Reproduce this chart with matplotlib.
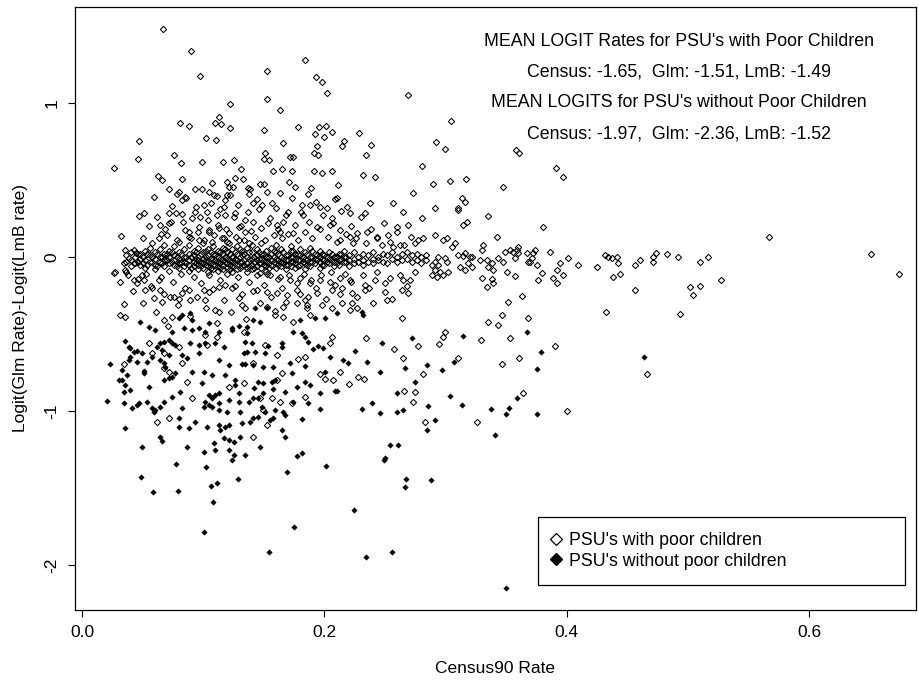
import matplotlib
matplotlib.use("Agg")
import matplotlib.pyplot as plt
from matplotlib.lines import Line2D

plt.rcParams['font.family'] = ['Liberation Sans', 'DejaVu Sans']

# ---- data: PSU's with poor children (open diamonds) ----
open_high = [(0.0668, 1.482), (0.0896, 1.336), (0.097, 1.177), (0.1218, 0.994), (0.113, 0.911),
             (0.110, 0.868), (0.1146, 0.866), (0.1218, 0.838), (0.0811, 0.868), (0.088, 0.849),
             (0.047, 0.751), (0.102, 0.773), (0.1105, 0.762), (0.0462, 0.634), (0.0264, 0.580),
             (0.0761, 0.660), (0.0814, 0.608), (0.0987, 0.615), (0.1163, 0.615), (0.1254, 0.630),
             (0.1314, 0.571), (0.0627, 0.524), (0.066, 0.498), (0.0827, 0.506), (0.1199, 0.489),
             (0.126, 0.515), (0.133, 0.506), (0.107, 0.478), (0.0715, 0.441), (0.093, 0.443),
             (0.0803, 0.42), (0.0786, 0.407), (0.0847, 0.388), (0.0594, 0.392), (0.1045, 0.422),
             (0.1086, 0.405), (0.111, 0.396), (0.121, 0.455), (0.1245, 0.453), (0.120, 0.40),
             (0.1367, 0.45), (0.1375, 0.411),
             (0.1837, 1.277), (0.1523, 1.206), (0.1927, 1.167), (0.1977, 1.134), (0.202, 1.067),
             (0.2689, 1.054), (0.1523, 1.028), (0.1633, 0.957), (0.1504, 0.825), (0.1781, 0.844),
             (0.1955, 0.846), (0.201, 0.853), (0.1922, 0.80), (0.1996, 0.781), (0.2064, 0.814),
             (0.2287, 0.805), (0.2158, 0.755), (0.2142, 0.723), (0.2381, 0.727), (0.2917, 0.749),
             (0.166, 0.738), (0.1938, 0.719), (0.1506, 0.675), (0.150, 0.636), (0.1542, 0.630),
             (0.1715, 0.651), (0.1743, 0.651), (0.1916, 0.677), (0.1944, 0.664), (0.2345, 0.66),
             (0.1578, 0.556), (0.1652, 0.569), (0.173, 0.556), (0.1913, 0.558), (0.1982, 0.547),
             (0.2062, 0.558), (0.2317, 0.532), (0.2416, 0.521), (0.2807, 0.591), (0.2895, 0.472),
             (0.2727, 0.418), (0.1705, 0.489), (0.1757, 0.455), (0.163, 0.418), (0.1468, 0.476),
             (0.150, 0.472), (0.1889, 0.446), (0.1866, 0.411), (0.2114, 0.466), (0.21, 0.383),
             (0.2087, 0.375), (0.1386, 0.444), (0.144, 0.375),
             (0.3043, 0.883), (0.2996, 0.703), (0.3577, 0.693), (0.3607, 0.675), (0.391, 0.58),
             (0.3964, 0.518), (0.3035, 0.494), (0.3167, 0.506), (0.347, 0.455), (0.3137, 0.381)]

open_mid = [(0.0468, 0.266), (0.0509, 0.284), (0.0324, 0.134), (0.0646, 0.208), (0.0687, 0.18),
            (0.0654, 0.149), (0.0638, 0.123), (0.0734, 0.229), (0.0715, 0.219), (0.0825, 0.277),
            (0.0778, 0.284), (0.0715, 0.288), (0.0907, 0.255), (0.0976, 0.262), (0.105, 0.164),
            (0.0825, 0.37), (0.094, 0.327), (0.1003, 0.338), (0.1031, 0.294), (0.1113, 0.273),
            (0.1182, 0.273), (0.1264, 0.284), (0.1347, 0.24), (0.1169, 0.327), (0.1182, 0.37),
            (0.0852, 0.175), (0.088, 0.164), (0.0962, 0.197), (0.1045, 0.175), (0.1127, 0.186),
            (0.121, 0.154), (0.1292, 0.197), (0.1347, 0.164), (0.088, 0.132), (0.0962, 0.11),
            (0.1072, 0.099), (0.1155, 0.121), (0.121, 0.089), (0.1292, 0.11), (0.1375, 0.089),
            (0.1413, 0.349), (0.1482, 0.338), (0.1564, 0.349), (0.1702, 0.294), (0.1812, 0.338),
            (0.1881, 0.338), (0.1963, 0.327), (0.2018, 0.316), (0.1825, 0.273), (0.2059, 0.251),
            (0.2183, 0.327), (0.2211, 0.284), (0.2375, 0.349), (0.2334, 0.284), (0.2568, 0.349),
            (0.265, 0.294), (0.2802, 0.251), (0.2691, 0.208), (0.2526, 0.143), (0.2746, 0.089),
            (0.2815, 0.121), (0.1536, 0.219), (0.1605, 0.208), (0.166, 0.229), (0.1633, 0.164),
            (0.1743, 0.154), (0.1935, 0.197), (0.2045, 0.208), (0.2128, 0.175), (0.2211, 0.132),
            (0.2266, 0.154), (0.2348, 0.164), (0.2431, 0.132), (0.2128, 0.11), (0.2238, 0.089),
            (0.2595, 0.197), (0.2472, 0.078), (0.2568, 0.067), (0.2623, 0.078),
            (0.05, 0.12), (0.055, 0.2), (0.058, 0.09), (0.062, 0.26), (0.07, 0.14), (0.074, 0.33),
            (0.078, 0.11), (0.083, 0.23), (0.086, 0.38), (0.09, 0.12), (0.093, 0.29), (0.096, 0.16),
            (0.099, 0.44), (0.101, 0.11), (0.104, 0.24), (0.106, 0.35), (0.109, 0.14), (0.112, 0.21),
            (0.114, 0.31), (0.117, 0.12), (0.119, 0.18), (0.122, 0.4), (0.125, 0.26), (0.127, 0.13),
            (0.129, 0.34), (0.131, 0.2), (0.134, 0.11), (0.137, 0.29), (0.139, 0.17), (0.141, 0.23),
            (0.143, 0.13), (0.146, 0.31), (0.148, 0.19), (0.151, 0.11), (0.153, 0.42), (0.155, 0.25),
            (0.158, 0.14), (0.16, 0.32), (0.162, 0.18), (0.165, 0.12), (0.168, 0.27), (0.17, 0.15),
            (0.173, 0.38), (0.176, 0.21), (0.178, 0.11), (0.181, 0.29), (0.184, 0.16), (0.187, 0.23),
            (0.19, 0.12), (0.193, 0.36), (0.196, 0.18), (0.199, 0.27), (0.203, 0.13), (0.207, 0.22),
            (0.21, 0.1), (0.214, 0.3), (0.218, 0.15), (0.222, 0.2), (0.226, 0.12), (0.23, 0.26),
            (0.234, 0.09), (0.238, 0.18), (0.243, 0.12), (0.249, 0.22), (0.254, 0.1), (0.26, 0.16),
            (0.266, 0.08), (0.271, 0.13), (0.277, 0.11)]

# the dense band around zero, listed column by column
band = [(0.036, 0.01), (0.036, -0.03), (0.040, 0.03), (0.040, -0.02), (0.040, -0.06),
        (0.044, 0.0), (0.044, -0.04), (0.048, 0.02), (0.048, -0.01), (0.048, -0.05),
        (0.052, 0.04), (0.052, -0.02), (0.052, -0.07), (0.056, 0.01), (0.056, -0.03), (0.056, 0.06),
        (0.060, 0.03), (0.060, -0.01), (0.060, -0.05), (0.060, -0.08), (0.064, 0.0), (0.064, -0.03),
        (0.064, 0.05), (0.068, 0.02), (0.068, -0.02), (0.068, -0.06), (0.068, 0.08),
        (0.072, 0.04), (0.072, 0.0), (0.072, -0.04), (0.072, -0.09), (0.076, 0.01), (0.076, -0.02),
        (0.076, -0.05), (0.076, 0.07), (0.080, 0.03), (0.080, -0.01), (0.080, -0.04), (0.080, -0.07),
        (0.080, 0.1), (0.084, 0.05), (0.084, 0.0), (0.084, -0.03), (0.084, -0.06),
        (0.088, 0.02), (0.088, -0.02), (0.088, -0.05), (0.088, -0.09), (0.088, 0.08),
        (0.092, 0.04), (0.092, 0.01), (0.092, -0.03), (0.092, -0.06),
        (0.096, 0.06), (0.096, 0.0), (0.096, -0.02), (0.096, -0.05), (0.096, -0.08),
        (0.100, 0.03), (0.100, -0.01), (0.100, -0.04), (0.100, -0.07), (0.100, 0.09),
        (0.104, 0.05), (0.104, 0.01), (0.104, -0.03), (0.104, -0.06), (0.104, -0.1),
        (0.108, 0.02), (0.108, -0.01), (0.108, -0.05), (0.108, -0.08), (0.108, 0.07),
        (0.112, 0.04), (0.112, 0.0), (0.112, -0.03), (0.112, -0.06), (0.112, -0.09),
        (0.116, 0.06), (0.116, 0.02), (0.116, -0.02), (0.116, -0.05), (0.116, -0.08),
        (0.120, 0.03), (0.120, -0.01), (0.120, -0.04), (0.120, -0.07), (0.120, 0.1),
        (0.124, 0.05), (0.124, 0.0), (0.124, -0.03), (0.124, -0.06), (0.124, -0.1),
        (0.128, 0.02), (0.128, -0.02), (0.128, -0.05), (0.128, -0.08), (0.128, 0.07),
        (0.132, 0.04), (0.132, 0.01), (0.132, -0.03), (0.132, -0.06),
        (0.136, 0.06), (0.136, 0.0), (0.136, -0.04), (0.136, -0.07), (0.136, -0.1),
        (0.140, 0.03), (0.140, -0.01), (0.140, -0.05), (0.140, -0.08), (0.140, 0.08),
        (0.144, 0.05), (0.144, 0.01), (0.144, -0.02), (0.144, -0.06),
        (0.148, 0.02), (0.148, -0.01), (0.148, -0.04), (0.148, -0.07), (0.148, 0.09),
        (0.152, 0.04), (0.152, 0.0), (0.152, -0.03), (0.152, -0.06), (0.152, -0.09),
        (0.156, 0.06), (0.156, 0.02), (0.156, -0.02), (0.156, -0.05),
        (0.160, 0.03), (0.160, -0.01), (0.160, -0.04), (0.160, -0.07), (0.160, 0.08),
        (0.164, 0.05), (0.164, 0.0), (0.164, -0.03), (0.164, -0.06),
        (0.168, 0.01), (0.168, -0.02), (0.168, -0.05), (0.168, -0.08),
        (0.172, 0.04), (0.172, 0.0), (0.172, -0.03), (0.172, -0.06), (0.172, 0.07),
        (0.176, 0.02), (0.176, -0.01), (0.176, -0.04), (0.176, -0.07),
        (0.180, 0.05), (0.180, 0.01), (0.180, -0.02), (0.180, -0.05),
        (0.184, 0.03), (0.184, -0.01), (0.184, -0.04), (0.184, -0.08),
        (0.188, 0.0), (0.188, -0.03), (0.188, -0.06), (0.188, 0.06),
        (0.192, 0.02), (0.192, -0.01), (0.192, -0.04), (0.196, 0.04), (0.196, 0.0),
        (0.196, -0.03), (0.196, -0.07), (0.200, 0.01), (0.200, -0.02), (0.200, -0.05),
        (0.204, 0.03), (0.204, -0.01), (0.204, -0.04), (0.208, 0.0), (0.208, -0.03), (0.208, -0.06),
        (0.212, 0.02), (0.212, -0.02), (0.212, -0.05), (0.216, 0.04), (0.216, 0.0), (0.216, -0.03),
        (0.220, 0.01), (0.220, -0.02), (0.220, -0.06), (0.224, 0.03), (0.224, -0.01), (0.224, -0.04),
        (0.228, 0.0), (0.228, -0.03), (0.232, 0.02), (0.232, -0.02), (0.232, -0.05),
        (0.236, 0.01), (0.236, -0.03), (0.240, 0.03), (0.240, -0.01), (0.240, -0.04),
        (0.244, 0.0), (0.244, -0.02), (0.248, 0.02), (0.248, -0.03), (0.252, 0.01), (0.252, -0.04),
        (0.256, 0.03), (0.256, -0.01), (0.260, 0.0), (0.260, -0.03), (0.264, 0.02), (0.264, -0.02),
        (0.268, -0.01), (0.268, 0.03), (0.272, 0.01), (0.272, -0.03), (0.276, 0.02), (0.276, -0.02),
        (0.280, 0.0), (0.280, -0.04), (0.284, 0.01), (0.284, -0.02)]

# extra points where the band is nearly solid
band_core = [(0.046, 0.02), (0.046, -0.03), (0.050, 0.0), (0.050, -0.04), (0.054, 0.02), (0.054, -0.05),
             (0.058, 0.0), (0.058, -0.03), (0.062, 0.02), (0.062, -0.06), (0.066, 0.0), (0.066, -0.04),
             (0.070, 0.02), (0.070, -0.02), (0.074, -0.03), (0.074, 0.03), (0.078, 0.0), (0.078, -0.06),
             (0.082, 0.02), (0.082, -0.03), (0.086, 0.0), (0.086, -0.04),
             (0.090, 0.0), (0.090, -0.07), (0.094, -0.01), (0.094, 0.03), (0.094, -0.04),
             (0.098, 0.02), (0.098, -0.03), (0.098, -0.06), (0.102, 0.0), (0.102, -0.02), (0.102, -0.05),
             (0.102, 0.04), (0.106, 0.03), (0.106, -0.01), (0.106, -0.04), (0.106, -0.07),
             (0.110, 0.01), (0.110, -0.02), (0.110, -0.05), (0.114, 0.03), (0.114, -0.01),
             (0.114, -0.04), (0.114, -0.07), (0.118, 0.0), (0.118, -0.03), (0.118, 0.05),
             (0.122, 0.02), (0.122, -0.02), (0.122, -0.05), (0.122, -0.08), (0.126, 0.03),
             (0.126, -0.01), (0.126, -0.04), (0.130, 0.0), (0.130, -0.03), (0.130, -0.07),
             (0.130, 0.05), (0.134, 0.02), (0.134, -0.02), (0.134, -0.05), (0.138, 0.03),
             (0.138, -0.01), (0.138, -0.06), (0.142, 0.0), (0.142, -0.03), (0.142, -0.07),
             (0.146, 0.03), (0.146, -0.01), (0.146, -0.04), (0.150, 0.02), (0.150, -0.02),
             (0.150, -0.05), (0.154, 0.0), (0.154, -0.04), (0.154, -0.07), (0.158, 0.04),
             (0.158, 0.0), (0.158, -0.03), (0.162, 0.02), (0.162, -0.02), (0.162, -0.05),
             (0.166, 0.03), (0.166, -0.01), (0.166, -0.04), (0.170, 0.01), (0.170, -0.02),
             (0.170, -0.05), (0.174, 0.04), (0.174, 0.0), (0.174, -0.03), (0.178, 0.02),
             (0.178, -0.02), (0.178, -0.06), (0.182, 0.0), (0.182, -0.03), (0.186, 0.02),
             (0.186, -0.02), (0.186, -0.05), (0.190, 0.04), (0.190, 0.0), (0.190, -0.03),
             (0.194, 0.01), (0.194, -0.02), (0.198, 0.02), (0.198, -0.01), (0.198, -0.05),
             (0.202, 0.0), (0.202, -0.03), (0.206, 0.02), (0.206, -0.02), (0.210, 0.0),
             (0.210, -0.04), (0.214, 0.02), (0.214, -0.01), (0.218, 0.0), (0.218, -0.03)]

open_low = [(0.0357, 0.045), (0.0385, -0.009), (0.0344, -0.041), (0.0275, -0.095), (0.0261, -0.106),
            (0.0316, -0.16), (0.0357, -0.084), (0.0363, -0.095), (0.0426, -0.041), (0.0426, 0.045),
            (0.0445, 0.028), (0.0426, -0.149), (0.0454, -0.171), (0.0522, -0.214), (0.0577, -0.203),
            (0.0646, -0.214), (0.0591, -0.268), (0.066, -0.29), (0.0495, -0.117), (0.0509, -0.149),
            (0.0632, -0.149), (0.0344, -0.305), (0.0316, -0.377), (0.0357, -0.388), (0.0728, -0.258),
            (0.0756, -0.258), (0.0797, -0.273), (0.0893, -0.279), (0.0825, -0.236), (0.088, -0.214),
            (0.1003, -0.214), (0.1045, -0.225), (0.1127, -0.193), (0.1182, -0.182), (0.1237, -0.203),
            (0.1017, -0.279), (0.1099, -0.344), (0.1127, -0.355), (0.1292, -0.268), (0.132, -0.312),
            (0.1347, -0.333), (0.0674, -0.409), (0.0742, -0.392),
            (0.1468, -0.106), (0.155, -0.117), (0.1633, -0.128), (0.1715, -0.149), (0.1798, -0.138),
            (0.188, -0.171), (0.1963, -0.149), (0.2045, -0.16), (0.2128, -0.138), (0.2211, -0.149),
            (0.2334, -0.182), (0.2416, -0.149), (0.254, -0.138), (0.265, -0.149), (0.2705, -0.149),
            (0.1441, -0.214), (0.1523, -0.225), (0.1605, -0.236), (0.1688, -0.247), (0.177, -0.214),
            (0.1867, -0.258), (0.1935, -0.236), (0.2059, -0.214), (0.2142, -0.203), (0.2224, -0.236),
            (0.2334, -0.214), (0.2499, -0.225), (0.2636, -0.214), (0.2691, -0.236),
            (0.1523, -0.323), (0.166, -0.323), (0.177, -0.301), (0.1839, -0.279), (0.1976, -0.312),
            (0.2059, -0.333), (0.2142, -0.301), (0.221, -0.344), (0.2265, -0.333), (0.2403, -0.301),
            (0.2513, -0.279), (0.2636, -0.398), (0.166, -0.388), (0.1592, -0.377), (0.188, -0.377),
            (0.1853, -0.333), (0.2224, -0.301),
            (0.038, -0.12), (0.042, -0.22), (0.046, -0.14), (0.05, -0.3), (0.053, -0.11), (0.057, -0.19),
            (0.061, -0.36), (0.065, -0.13), (0.068, -0.24), (0.071, -0.45), (0.075, -0.16), (0.079, -0.31),
            (0.082, -0.11), (0.085, -0.2), (0.089, -0.38), (0.092, -0.13), (0.095, -0.26), (0.098, -0.17),
            (0.102, -0.33), (0.105, -0.12), (0.108, -0.21), (0.111, -0.43), (0.114, -0.15), (0.117, -0.28),
            (0.12, -0.11), (0.123, -0.36), (0.126, -0.19), (0.129, -0.13), (0.132, -0.24), (0.135, -0.4),
            (0.138, -0.16), (0.141, -0.22), (0.144, -0.12), (0.147, -0.3), (0.15, -0.18), (0.153, -0.11),
            (0.156, -0.26), (0.159, -0.35), (0.162, -0.14), (0.165, -0.2), (0.168, -0.29), (0.171, -0.12),
            (0.174, -0.42), (0.177, -0.17), (0.18, -0.24), (0.183, -0.11), (0.186, -0.31), (0.189, -0.15),
            (0.193, -0.2), (0.197, -0.12), (0.201, -0.27), (0.205, -0.1), (0.209, -0.18), (0.213, -0.24),
            (0.217, -0.11), (0.222, -0.16), (0.227, -0.26), (0.232, -0.12), (0.237, -0.2), (0.243, -0.1),
            (0.25, -0.17), (0.256, -0.27), (0.262, -0.12), (0.268, -0.19), (0.275, -0.1)]

open_right = [(0.2911, 0.316), (0.3104, 0.316), (0.3104, 0.305), (0.3159, 0.359), (0.3351, 0.266),
              (0.3173, 0.229), (0.3145, 0.208), (0.3805, 0.193), (0.2911, 0.143), (0.298, 0.110),
              (0.3008, 0.121), (0.3076, 0.089), (0.3049, 0.067), (0.331, 0.078), (0.3296, 0.045),
              (0.342, 0.132), (0.3159, 0.024), (0.3145, 0.006), (0.32, 0.002), (0.3104, 0.013),
              (0.2939, 0.002), (0.2911, -0.030), (0.2994, -0.009), (0.3008, -0.030), (0.2884, -0.052),
              (0.2939, -0.052), (0.2911, -0.084), (0.2953, -0.095), (0.2884, -0.117), (0.2925, -0.128),
              (0.298, -0.117), (0.3021, -0.095), (0.3118, -0.063), (0.3159, -0.084), (0.3186, -0.041),
              (0.3214, -0.063), (0.3214, 0.002), (0.3282, -0.019), (0.3338, -0.019), (0.3351, -0.063),
              (0.3392, -0.084), (0.3379, -0.041), (0.3434, -0.009), (0.3475, -0.030), (0.3489, 0.035),
              (0.353, 0.045), (0.3557, 0.035), (0.3585, 0.045), (0.3598, 0.067), (0.3571, -0.009),
              (0.3598, 0.024), (0.3503, -0.095), (0.3571, -0.123), (0.3296, -0.139), (0.3379, -0.145),
              (0.3392, -0.167), (0.3338, -0.193), (0.3667, 0.024), (0.3681, -0.030), (0.3722, 0.024),
              (0.3709, -0.009), (0.3736, 0.045), (0.375, -0.052), (0.3791, -0.106), (0.3763, -0.149),
              (0.3695, -0.030), (0.386, 0.035), (0.3942, -0.041), (0.3915, -0.084), (0.3887, -0.139),
              (0.3915, -0.167), (0.397, -0.117), (0.4011, -0.009), (0.4093, -0.052), (0.4245, -0.063),
              (0.4313, 0.013), (0.4341, 0.002), (0.4368, -0.009), (0.441, 0.002), (0.4423, -0.037),
              (0.4382, -0.128), (0.4437, -0.110), (0.4561, -0.052), (0.4602, -0.019), (0.4561, -0.214),
              (0.4707, -0.030), (0.4712, 0.002), (0.4734, 0.024), (0.4822, 0.019), (0.4918, -0.002),
              (0.5097, -0.030), (0.5165, -0.002), (0.5014, -0.193), (0.5097, -0.188), (0.5042, -0.247),
              (0.3626, -0.251), (0.3516, -0.290), (0.3461, -0.377), (0.3351, -0.420), (0.3434, -0.442),
              (0.3681, -0.394), (0.4324, -0.359), (0.4932, -0.372), (0.527, -0.149), (0.5669, 0.128),
              (0.6505, 0.019), (0.6741, -0.110)]

open_neg = [(0.0344, -0.697), (0.055, -0.561), (0.0577, -0.626), (0.0674, -0.626), (0.0797, -0.582),
            (0.0825, -0.686), (0.0674, -0.723), (0.0715, -0.745), (0.0866, -0.81), (0.0907, -0.918),
            (0.0619, -1.069), (0.0715, -1.048), (0.1017, -0.507), (0.1113, -0.517), (0.1333, -0.485),
            (0.121, -0.846), (0.1333, -0.816), (0.1031, -0.571),
            (0.1509, -0.571), (0.1605, -0.636), (0.1784, -0.665), (0.1839, -0.647), (0.2059, -0.517),
            (0.2045, -0.556), (0.2342, -0.528), (0.2774, -0.576), (0.2576, -0.6), (0.2645, -0.654),
            (0.1413, -0.691), (0.1647, -0.755), (0.1605, -0.799), (0.1963, -0.76), (0.2004, -0.794),
            (0.2128, -0.749), (0.2073, -0.799), (0.2205, -0.827), (0.2279, -0.777), (0.2326, -0.792),
            (0.2815, -0.762), (0.2746, -0.875), (0.2656, -0.868), (0.2733, -0.939), (0.1468, -0.918),
            (0.1564, -0.918), (0.1633, -0.939), (0.1729, -0.946), (0.1839, -0.907), (0.1495, -0.994),
            (0.1523, -1.091), (0.1413, -1.171), (0.2829, -1.069),
            (0.2994, -0.485), (0.2975, -0.522), (0.2944, -0.565), (0.3291, -0.537), (0.353, -0.528),
            (0.3901, -0.578), (0.3104, -0.658), (0.3461, -0.693), (0.3602, -0.656), (0.4663, -0.758),
            (0.3638, -0.881), (0.3261, -1.071), (0.4, -1.0)]

# ---- data: PSU's without poor children (filled diamonds) ----
filled_left = [(0.0481, -0.42), (0.055, -0.452), (0.0797, -0.398), (0.0825, -0.377), (0.0893, -0.366),
               (0.0907, -0.409), (0.0838, -0.463), (0.0962, -0.463), (0.1045, -0.431), (0.1237, -0.463),
               (0.1292, -0.448), (0.1361, -0.452),
               (0.0605, -0.474), (0.0742, -0.485), (0.0907, -0.474), (0.1017, -0.485), (0.1127, -0.485),
               (0.1237, -0.474), (0.1361, -0.496), (0.0357, -0.543), (0.0385, -0.582), (0.0399, -0.593),
               (0.0426, -0.615), (0.0454, -0.608), (0.0495, -0.621), (0.0619, -0.582), (0.0646, -0.561),
               (0.0674, -0.55), (0.0715, -0.539), (0.0742, -0.561), (0.066, -0.604), (0.077, -0.571),
               (0.0715, -0.636), (0.0825, -0.636), (0.0866, -0.658), (0.0893, -0.561), (0.0962, -0.571),
               (0.1017, -0.561), (0.11, -0.561), (0.1168, -0.582), (0.0962, -0.626), (0.1347, -0.55),
               (0.1333, -0.626), (0.1361, -0.615), (0.0234, -0.697), (0.033, -0.734), (0.0371, -0.766),
               (0.0399, -0.647), (0.0385, -0.669), (0.0454, -0.68), (0.0536, -0.68), (0.0577, -0.647),
               (0.0646, -0.669), (0.0674, -0.691), (0.0687, -0.712), (0.1127, -0.669), (0.121, -0.701),
               (0.132, -0.697), (0.1347, -0.697), (0.0509, -0.738), (0.0509, -0.755), (0.0907, -0.745),
               (0.1003, -0.745), (0.1072, -0.766), (0.1182, -0.766), (0.033, -0.799), (0.0302, -0.799),
               (0.0357, -0.831), (0.0399, -0.864), (0.0344, -0.875), (0.055, -0.842), (0.0674, -0.799),
               (0.0715, -0.788), (0.0742, -0.777), (0.077, -0.755), (0.1264, -0.799), (0.1264, -0.831),
               (0.099, -0.82), (0.1292, -0.885), (0.0811, -0.875), (0.0742, -0.911), (0.0674, -0.939),
               (0.0646, -0.972), (0.0591, -1.004), (0.0605, -0.994), (0.0577, -0.983), (0.0344, -0.95),
               (0.0412, -0.983), (0.0454, -0.961), (0.0467, -0.95), (0.0536, -0.939), (0.1045, -0.896),
               (0.1072, -0.918), (0.11, -0.896), (0.1127, -0.885), (0.1017, -0.939), (0.1045, -0.961),
               (0.1003, -0.972), (0.1072, -0.972), (0.1127, -0.95), (0.121, -0.929), (0.1292, -0.939),
               (0.1375, -0.939), (0.1127, -0.994), (0.1196, -1.004), (0.1306, -1.004), (0.0825, -0.983),
               (0.0797, -1.048), (0.0935, -1.069), (0.088, -1.113), (0.0797, -1.106), (0.1031, -1.106),
               (0.1127, -1.091), (0.1182, -1.102), (0.121, -1.091), (0.1141, -1.123), (0.132, -1.08),
               (0.1388, -1.069), (0.0357, -1.113), (0.1168, -1.177), (0.121, -1.188), (0.1251, -1.199),
               (0.1306, -1.167), (0.0646, -1.167), (0.066, -1.193), (0.0495, -1.236), (0.0866, -1.232),
               (0.1003, -1.264), (0.1086, -1.21), (0.11, -1.253), (0.121, -1.253), (0.1251, -1.286),
               (0.1347, -1.286), (0.0206, -0.935)]

filled_mid = [(0.1427, -0.333), (0.1523, -0.333), (0.1413, -0.409), (0.1468, -0.42), (0.1798, -0.409),
              (0.1922, -0.398), (0.2004, -0.398), (0.2307, -0.355), (0.232, -0.377), (0.21, -0.366),
              (0.14, -0.561), (0.1427, -0.615), (0.1509, -0.626), (0.1537, -0.578), (0.1647, -0.561),
              (0.1647, -0.582), (0.1743, -0.485), (0.1812, -0.496), (0.1839, -0.517), (0.1867, -0.55),
              (0.1908, -0.6), (0.1949, -0.578), (0.199, -0.593), (0.2045, -0.647), (0.2252, -0.611),
              (0.2348, -0.684), (0.2471, -0.561), (0.2719, -0.528), (0.215, -0.669), (0.2197, -0.691),
              (0.1413, -0.701), (0.1495, -0.712), (0.1578, -0.717), (0.1715, -0.686), (0.1839, -0.706),
              (0.1729, -0.751), (0.2004, -0.745), (0.2458, -0.745), (0.2664, -0.723), (0.2843, -0.701),
              (0.1454, -0.81), (0.1495, -0.82), (0.1564, -0.81), (0.1592, -0.799), (0.1674, -0.875),
              (0.177, -0.842), (0.1839, -0.81), (0.188, -0.831), (0.1963, -0.885), (0.2087, -0.87),
              (0.21, -0.87), (0.1419, -0.853), (0.1495, -0.881), (0.1578, -0.859), (0.1413, -0.918),
              (0.1454, -0.918), (0.1482, -0.976), (0.1509, -1.004), (0.1592, -0.994), (0.1413, -1.048),
              (0.1454, -1.037), (0.1578, -1.048), (0.1551, -1.058), (0.166, -1.004), (0.1674, -1.026),
              (0.1743, -0.939), (0.1867, -0.946), (0.1963, -0.987), (0.1812, -1.054), (0.2306, -0.989),
              (0.2389, -0.946), (0.2458, -1.015), (0.2595, -1.004), (0.265, -0.994), (0.2595, -0.881),
              (0.2746, -0.81), (0.2856, -0.967), (0.1647, -1.123), (0.1674, -1.167), (0.1468, -1.232),
              (0.177, -1.292), (0.1812, -1.275), (0.254, -1.221), (0.2609, -1.221), (0.2499, -1.307),
              (0.2843, -1.123)]

filled_low = [(0.0484, -1.429), (0.0586, -1.526), (0.0773, -1.347), (0.0792, -1.522), (0.1025, -1.366),
              (0.1067, -1.485), (0.1113, -1.468), (0.1078, -1.591), (0.1006, -1.788), (0.1284, -1.44),
              (0.154, -1.916), (0.1691, -1.394), (0.1751, -1.753), (0.201, -1.355), (0.2241, -1.64),
              (0.2345, -1.95), (0.2554, -1.918), (0.2675, -1.444), (0.2664, -1.494), (0.2881, -1.448),
              (0.2493, -1.318), (0.1237, -1.318), (0.35, -2.149),
              (0.3145, -0.513), (0.3668, -0.485), (0.3783, -0.615), (0.3751, -0.729), (0.3068, -0.68),
              (0.2972, -0.734), (0.4635, -0.647), (0.3035, -0.903), (0.3131, -0.961), (0.2911, -1.058),
              (0.3376, -0.989), (0.3522, -0.981), (0.3585, -0.914), (0.3494, -1.017), (0.3751, -1.017),
              (0.3406, -1.156)]

notes = ["MEAN LOGIT Rates for PSU's with Poor Children",
         "Census: -1.65,  Glm: -1.51, LmB: -1.49",
         "MEAN LOGITS for PSU's without Poor Children",
         "Census: -1.97,  Glm: -2.36, LmB: -1.52"]
note_y = [1.4, 1.2, 1.0, 0.8]
legend_labels = ["PSU's with poor children", "PSU's without poor children"]

open_pts = open_high + open_mid + band + band_core + open_low + open_right + open_neg
filled_pts = filled_left + filled_mid + filled_low

fig = plt.figure(figsize=(9.2, 6.84), dpi=100)
ax = fig.add_axes([75 / 920, 74 / 684, 841 / 920, 603 / 684])

ax.plot([p[0] for p in open_pts], [p[1] for p in open_pts], linestyle='none', marker='D',
        markersize=3.2, markerfacecolor='none', markeredgecolor='black', markeredgewidth=0.75)
ax.plot([p[0] for p in filled_pts], [p[1] for p in filled_pts], linestyle='none', marker='D',
        markersize=2.8, markerfacecolor='black', markeredgecolor='black', markeredgewidth=0.3)

ax.set_xlim(-0.0058, 0.688)
ax.set_ylim(-2.292, 1.623)
ax.set_xticks([0.0, 0.2, 0.4, 0.6])
ax.set_xticklabels(['0.0', '0.2', '0.4', '0.6'])
ax.set_yticks([-2, -1, 0, 1])
ax.set_yticklabels(['-2', '-1', '0', '1'], rotation=90, va='center')
ax.tick_params(direction='out', length=5, width=0.8, labelsize=12.5, pad=6)
for s in ax.spines.values():
    s.set_linewidth(0.9)

ax.set_xlabel('Census90 Rate', fontsize=12.5, labelpad=15)
ax.set_ylabel('Logit(Glm Rate)-Logit(LmB rate)', fontsize=12.5, labelpad=12)

for t, yy in zip(notes, note_y):
    ax.text(0.4925, yy, t, ha='center', va='center', fontsize=12.8)

handles = [Line2D([], [], linestyle='none', marker='D', markersize=6, markerfacecolor='none',
                  markeredgecolor='black', markeredgewidth=0.9),
           Line2D([], [], linestyle='none', marker='D', markersize=6, markerfacecolor='black',
                  markeredgecolor='black')]
leg = ax.legend(handles, legend_labels, loc='upper left', mode='expand',
                bbox_to_anchor=(0.376, -2.13, 0.303, 0.442), bbox_transform=ax.transData,
                borderaxespad=0, fontsize=12.8, frameon=True, fancybox=False, framealpha=1,
                edgecolor='black', borderpad=0.85, handlelength=0.3, handletextpad=0.6,
                labelspacing=0.2)
leg.get_frame().set_linewidth(0.9)

fig.savefig('out.png', dpi=100)
